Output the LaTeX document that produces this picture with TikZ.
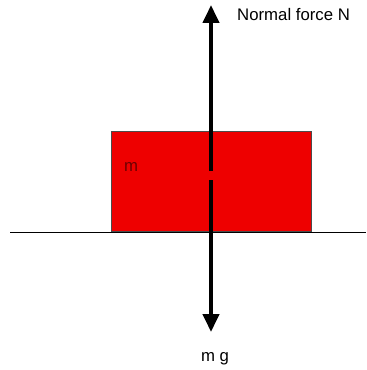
\documentclass[tikz,border=0pt]{standalone}
\usepackage{fontspec}
\setmainfont{Liberation Sans}
\usetikzlibrary{arrows.meta, positioning}
\definecolor{blockred}{RGB}{238,0,0}
\definecolor{massred}{RGB}{110,0,0}
\begin{document}
\begin{tikzpicture}[x=0.03cm, y=-0.03cm, >={Triangle[length=5.4mm, width=4.8mm]},
  force/.style={->, line width=1.2mm},
  label/.style={font=\fontsize{14.3}{16}\selectfont, inner sep=0pt}]
  \useasboundingbox (0,0) rectangle (366,370);
  % Ground
  \coordinate (gl) at (10,232);
  \coordinate (gr) at (366,232);
  \draw[line width=0.3mm] (gl) -- (gr);
  % Block
  \node[draw=black!70, fill=blockred, line width=0.3mm, minimum width=6cm,
    minimum height=3cm, inner sep=0pt, anchor=south west] (block) at (111,232) {};
  \node[label, text=massred] (mass) at (131,167) {m};
  % Forces
  \coordinate (upstart) at (211,171);
  \coordinate (uptip) at (211,5);
  \coordinate (downstart) at (211,180);
  \coordinate (downtip) at (211,332);
  \draw[force] (upstart) -- (uptip);
  \draw[force] (downstart) -- (downtip);
  \node[label, anchor=west] (normal) at (237,15) {Normal force N};
  \node[label] (weight) at (215,359) {m g};
\end{tikzpicture}
\end{document}
